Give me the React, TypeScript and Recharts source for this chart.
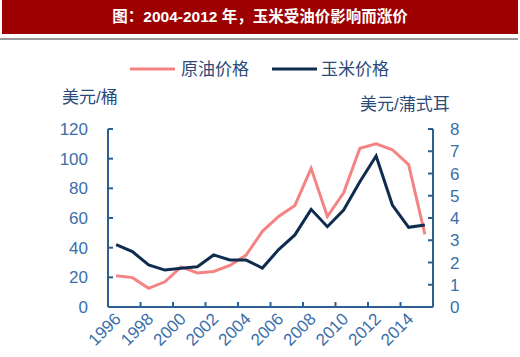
import React from 'react';
import { LineChart, Line, XAxis, YAxis } from 'recharts';

const years = [
  1996, 1997, 1998, 1999, 2000, 2001, 2002, 2003, 2004, 2005,
  2006, 2007, 2008, 2009, 2010, 2011, 2012, 2013, 2014, 2015,
];
const oilPrice = [21, 19.8, 12.6, 17, 27, 23, 24, 28, 35, 51, 61, 68.5, 93.5, 61, 77, 107, 110, 106, 96, 49];
const cornPrice = [2.8, 2.49, 1.89, 1.66, 1.74, 1.81, 2.34, 2.11, 2.11, 1.75, 2.58, 3.24, 4.39, 3.61, 4.36, 5.63, 6.79, 4.58, 3.58, 3.69];
const leftTicks = [0, 20, 40, 60, 80, 100, 120];
const rightTicks = [0, 1, 2, 3, 4, 5, 6, 7, 8];
// tick marks sit on category boundaries, labels in the middle of the category
const xTicks = [1995.5, 1997.5, 1999.5, 2001.5, 2003.5, 2005.5, 2007.5, 2009.5, 2011.5, 2013.5];

const data = years.map((year, i) => ({ year, oil: oilPrice[i], corn: cornPrice[i] }));

const AXIS = '#2f5f90';
const TICK_TEXT = '#3a6faa';
const TITLE_TEXT = '#2b4a78';
const RED = '#f68383';
const NAVY = '#0f2c4f';
const FONT = 'Arial, "Liberation Sans", "Noto Sans CJK SC", sans-serif';

const YearTick = (props: any) => {
  const { x, y, payload } = props;
  return (
    <g transform={`translate(${x + 14},${y + 18})`}>
      <text
        textAnchor="end"
        transform="rotate(-45)"
        fill={TICK_TEXT}
        fontSize={17}
        fontFamily={FONT}
      >
        {payload.value + 0.5}
      </text>
    </g>
  );
};

const LegendBox = () => (
  <svg width={520} height={24} style={{ position: 'absolute', left: 0, top: 58 }}>
    <line x1={130} x2={175} y1={11} y2={11} stroke={RED} strokeWidth={3} />
    <line x1={272} x2={317} y1={11} y2={11} stroke={NAVY} strokeWidth={3} />
    <text x={181} y={17} fontSize={17} fill={TITLE_TEXT} fontFamily={FONT}>原油价格</text>
    <text x={321} y={17} fontSize={17} fill={TITLE_TEXT} fontFamily={FONT}>玉米价格</text>
  </svg>
);

export default function App() {
  return (
    <div
      style={{
        position: 'absolute',
        left: 0,
        top: 0,
        width: 520,
        height: 357,
        background: '#fff',
        overflow: 'hidden',
        fontFamily: FONT,
      }}
    >
      <div
        style={{
          position: 'absolute',
          left: 2,
          top: 0,
          width: 516,
          height: 34,
          background: '#9c0000',
          color: '#fff',
          fontWeight: 'bold',
          fontSize: 15.5,
          lineHeight: '34px',
          textAlign: 'center',
          fontFamily: '"Liberation Sans", Arial, "Noto Sans CJK SC", sans-serif',
        }}
      >
        图：2004-2012 年，玉米受油价影响而涨价
      </div>
      <div style={{ position: 'absolute', left: 0, top: 38, width: 518, height: 2, background: '#9a9a9a' }} />

      <LegendBox />
      <div style={{ position: 'absolute', left: 62, top: 83, fontSize: 17, color: TITLE_TEXT }}>美元/桶</div>
      <div style={{ position: 'absolute', left: 360, top: 90, fontSize: 17, color: TITLE_TEXT }}>美元/蒲式耳</div>

      <div style={{ position: 'absolute', left: 0, top: 0 }}>
        <LineChart
          width={520}
          height={357}
          data={data}
          margin={{ top: 129, right: 27, left: 48, bottom: 0 }}
        >
          <XAxis
            dataKey="year"
            type="number"
            domain={[1995.5, 2015.5]}
            ticks={xTicks}
            interval={0}
            height={50}
            tick={<YearTick />}
            tickSize={-5}
            tickMargin={0}
            axisLine={{ stroke: AXIS, strokeWidth: 2 }}
            tickLine={{ stroke: AXIS, strokeWidth: 2 }}
          />
          <YAxis
            yAxisId="left"
            orientation="left"
            width={60}
            domain={[0, 120]}
            ticks={leftTicks}
            interval={0}
            tickSize={-5}
            tickMargin={25}
            tick={{ fill: TICK_TEXT, fontSize: 17, fontFamily: FONT }}
            axisLine={{ stroke: AXIS, strokeWidth: 2 }}
            tickLine={{ stroke: AXIS, strokeWidth: 2 }}
          />
          <YAxis
            yAxisId="right"
            orientation="right"
            width={60}
            domain={[0, 8]}
            ticks={rightTicks}
            interval={0}
            tickSize={-5}
            tickMargin={22}
            tick={{ fill: TICK_TEXT, fontSize: 17, fontFamily: FONT }}
            axisLine={{ stroke: AXIS, strokeWidth: 2 }}
            tickLine={{ stroke: AXIS, strokeWidth: 2 }}
          />
          <Line
            yAxisId="left"
            dataKey="oil"
            name="原油价格"
            stroke={RED}
            strokeWidth={3}
            dot={false}
            type="linear"
            isAnimationActive={false}
          />
          <Line
            yAxisId="right"
            dataKey="corn"
            name="玉米价格"
            stroke={NAVY}
            strokeWidth={3}
            dot={false}
            type="linear"
            isAnimationActive={false}
          />
        </LineChart>
      </div>
    </div>
  );
}
